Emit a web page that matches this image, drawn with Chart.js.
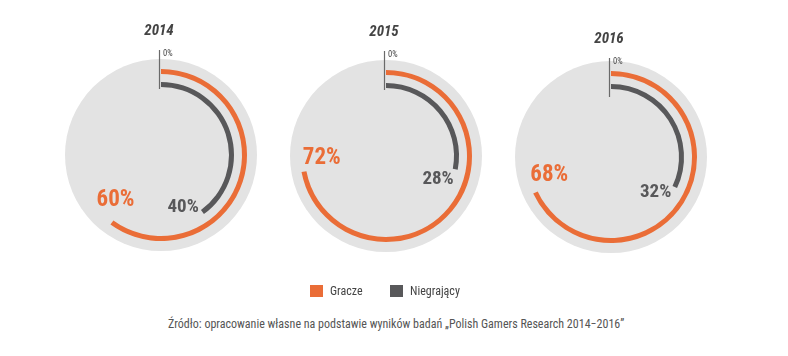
<!DOCTYPE html>
<html><head><meta charset="utf-8">
<script src="https://cdn.jsdelivr.net/npm/chart.js@4/dist/chart.umd.min.js"></script>
<style>
body{margin:0;background:#fff;width:788px;height:356px;overflow:hidden;position:relative;font-family:"Roboto Condensed","Liberation Sans Narrow","DejaVu Sans Condensed",Roboto,sans-serif}
.c{position:absolute;width:240px;height:260px}
.lg{position:absolute;top:284px;height:14px;font-size:12px;color:#444;line-height:14px;white-space:nowrap}
.sw{position:absolute;top:285px;width:13px;height:12px}
#src{position:absolute;left:168px;top:317px;font-size:12px;color:#555;white-space:nowrap}
</style></head>
<body>
<div class="c" id="w0"><canvas id="c0" width="240" height="260"></canvas></div>
<div class="c" id="w1"><canvas id="c1" width="240" height="260"></canvas></div>
<div class="c" id="w2"><canvas id="c2" width="240" height="260"></canvas></div>
<div class="sw" id="s0" style="left:310px"></div><div class="lg" id="l0" style="left:330px"></div>
<div class="sw" id="s1" style="left:390px"></div><div class="lg" id="l1" style="left:410px"></div>
<div id="src">Źródło: opracowanie własne na podstawie wyników badań „Polish Gamers Research 2014−2016”</div>
<script>
// ---- data ----
const years = ['2014', '2015', '2016'];
const gracze = [60, 72, 68];
const niegrajacy = [40, 28, 32];
const seriesNames = ['Gracze', 'Niegrający'];
const zeroLabel = '0%';

// ---- style / layout ----
const ORANGE = '#EA6D37', DARK = '#58585A', DISC = '#E3E3E3', NONE = 'rgba(0,0,0,0)';
const FONT = '"Roboto Condensed","Liberation Sans Narrow","DejaVu Sans Condensed",Roboto,sans-serif';
const centers = [[161, 155], [386, 156], [611, 157]];
const headShift = [0, 0, 6];

document.getElementById('s0').style.background = ORANGE;
document.getElementById('s1').style.background = DARK;
document.getElementById('l0').textContent = seriesNames[0];
document.getElementById('l1').textContent = seriesNames[1];

const decor = {
  id: 'decor',
  beforeDatasetsDraw(chart) {
    const ctx = chart.ctx, a = chart.chartArea;
    const cx = (a.left + a.right) / 2, cy = (a.top + a.bottom) / 2;
    const R = chart.getDatasetMeta(0).controller.outerRadius;
    ctx.save();
    ctx.fillStyle = DISC;
    ctx.beginPath(); ctx.arc(cx, cy, R + 10, 0, Math.PI * 2); ctx.fill();
    ctx.restore();
  },
  afterDatasetsDraw(chart, args, opts) {
    const ctx = chart.ctx, a = chart.chartArea;
    const cx = (a.left + a.right) / 2, cy = (a.top + a.bottom) / 2;
    const hs = opts.shift || 0;
    ctx.save();
    // year title
    ctx.fillStyle = '#444';
    ctx.font = 'italic bold 15px ' + FONT;
    ctx.textAlign = 'center'; ctx.textBaseline = 'middle';
    ctx.fillText(opts.year, cx - 2, cy - 124 + hs);
    // zero tick
    ctx.strokeStyle = '#6a6a6a'; ctx.lineWidth = 1.2;
    ctx.beginPath(); ctx.moveTo(cx - 1.5, cy - 105 + hs); ctx.lineTo(cx - 1.5, cy - 66 + hs); ctx.stroke();
    ctx.font = '8.5px ' + FONT; ctx.textAlign = 'left'; ctx.fillStyle = '#444';
    ctx.fillText(zeroLabel, cx + 2, cy - 101 + hs);
    // value labels at arc ends
    [[0, ORANGE, 23, 10, 20], [2, DARK, 19, 13, 15]].forEach(([di, col, fs, t, n]) => {
      const meta = chart.getDatasetMeta(di);
      const arc = meta.data[0];
      const e = arc.endAngle, r = (arc.outerRadius + arc.innerRadius) / 2;
      const px = arc.x + r * Math.cos(e) + t * (-Math.sin(e)) + n * (-Math.cos(e));
      const py = arc.y + r * Math.sin(e) + t * Math.cos(e) + n * (-Math.sin(e));
      ctx.fillStyle = col;
      ctx.font = 'bold ' + fs + 'px ' + FONT;
      ctx.textAlign = 'center'; ctx.textBaseline = 'middle';
      ctx.fillText(chart.data.datasets[di].data[0] + '%', px, py);
    });
    ctx.restore();
  }
};

years.forEach((y, i) => {
  const w = document.getElementById('w' + i);
  w.style.left = (centers[i][0] - 120) + 'px';
  w.style.top = (centers[i][1] - 145) + 'px';
  new Chart(document.getElementById('c' + i), {
    type: 'doughnut',
    data: {
      labels: seriesNames,
      datasets: [
        { label: seriesNames[0], data: [gracze[i], 100 - gracze[i]], backgroundColor: [ORANGE, NONE], weight: 5 },
        { label: '', data: [100], backgroundColor: [NONE], weight: 8 },
        { label: seriesNames[1], data: [niegrajacy[i], 100 - niegrajacy[i]], backgroundColor: [DARK, NONE], weight: 5 }
      ]
    },
    options: {
      responsive: false, animation: false, events: [],
      borderWidth: 0, hoverOffset: 0, spacing: 0,
      radius: 86, cutout: (68 / 86 * 100) + '%',
      rotation: 0, circumference: 360,
      layout: { padding: { left: 34, right: 34, top: 59, bottom: 29 } },
      plugins: { legend: { display: false }, tooltip: { enabled: false }, decor: { year: y, shift: headShift[i] } }
    },
    plugins: [decor]
  });
});
</script>
</body></html>
